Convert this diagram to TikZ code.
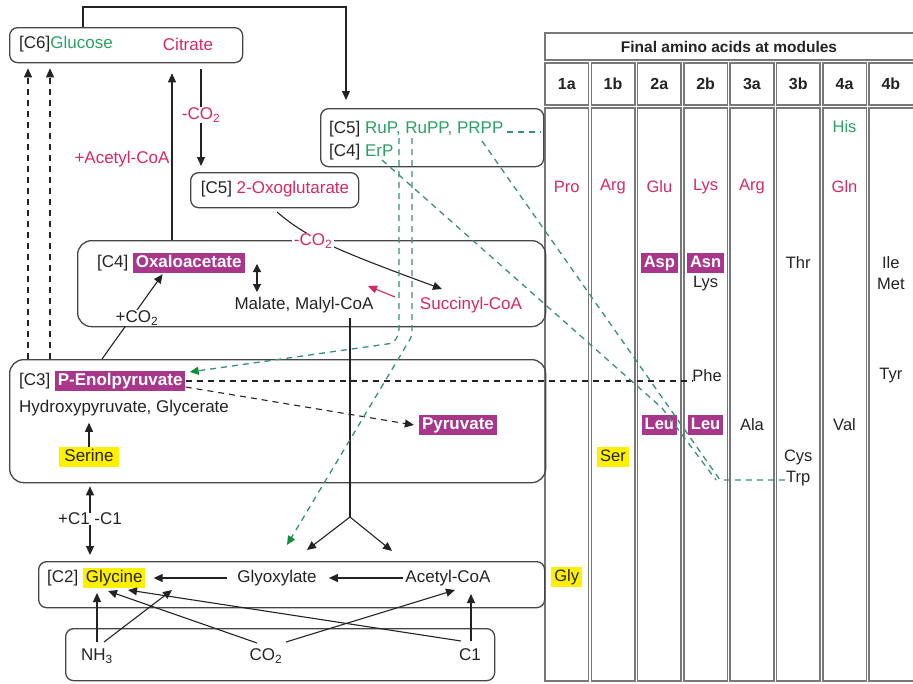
\documentclass[tikz,border=0pt]{standalone}
\usepackage{fontspec}
\setmainfont{Liberation Sans}
\usetikzlibrary{arrows.meta}
\definecolor{txtgreen}{RGB}{45,160,100}
\definecolor{crim}{RGB}{214,40,100}
\definecolor{magbg}{RGB}{168,55,140}
\definecolor{hlyel}{RGB}{255,240,0}
\definecolor{dgreen}{RGB}{55,145,115}
\definecolor{tipgreen}{RGB}{20,140,60}
\definecolor{frame}{RGB}{70,70,70}
\definecolor{tframe}{RGB}{120,120,120}
\definecolor{ink}{RGB}{35,35,35}
\begin{document}
\begin{tikzpicture}[x=1pt,y=-1pt,
  every node/.style={inner sep=0pt, text=ink},
  font=\fontsize{17}{20}\selectfont,
  panel/.style={draw=frame, line width=1.3pt, rounded corners=8pt, anchor=north west, inner sep=0pt},
  bigpanel/.style={panel, rounded corners=14pt},
  chip/.style={inner xsep=3pt, inner ysep=2pt, text height=12.5pt, text depth=3.5pt},
  magtag/.style={chip, fill=magbg, text=white, font=\fontsize{17}{20}\selectfont\bfseries},
  yeltag/.style={chip, fill=hlyel, text=ink},
  arrowend/.style={-{Triangle[length=9pt,width=8pt]}},
  link/.style={draw=ink, line width=1.1pt},
  flow/.style={link, arrowend},
  dashy/.style={dash pattern=on 6pt off 5pt},
  gline/.style={draw=dgreen, line width=1.3pt, dashy},
  gflow/.style={gline, -{Triangle[length=9pt,width=8pt,color=tipgreen]}},
  knockout/.style={fill=white, inner xsep=2pt, inner ysep=1pt},
  cell/.style={draw=tframe, line width=1.6pt},
  colhead/.style={font=\fontsize{16}{19}\selectfont\bfseries},
  aa/.style={font=\fontsize{16.5}{19}\selectfont},
  aatag/.style={font=\fontsize{16.5}{19}\selectfont\bfseries},
]
\useasboundingbox (0,0) rectangle (913,683);

% ---------- table of final amino acids ----------
\draw[cell] (545,33) rectangle (918,60);
\node[font=\fontsize{15.5}{18}\selectfont\bfseries] (tabtitle) at (729,46.5) {Final amino acids at modules};
\foreach \lab [count=\i from 0] in {1a,1b,2a,2b,3a,3b,4a,4b}{
  \pgfmathsetmacro{\xl}{545+46.3*\i}
  \pgfmathsetmacro{\colw}{\i==7 ? 50 : 43.5}
  \draw[cell] (\xl,63) rectangle ++(\colw,42);
  \draw[cell] (\xl,108) rectangle ++(\colw,573);
  \node[colhead] (col\lab) at (\xl+21.75,84) {\lab};
}
% column centres: 566.75 613.05 659.35 705.65 751.95 798.25 844.55 890.85
\node[aa, text=txtgreen] (his) at (844.55,127) {His};
\node[aa, text=crim] (pro) at (566.75,187) {Pro};
\node[aa, text=crim] (argA) at (613.05,187) {Arg};
\node[aa, text=crim] (glu) at (659.35,187) {Glu};
\node[aa, text=crim] (lysA) at (705.65,187) {Lys};
\node[aa, text=crim] (argB) at (751.95,187) {Arg};
\node[aa, text=crim] (gln) at (844.55,187) {Gln};
\node[magtag, aatag] (asp) at (659.35,263) {Asp};
\node[magtag, aatag] (asn) at (705.65,263) {Asn};
\node[aa] (lysB) at (705.65,284) {Lys};
\node[aa] (thr) at (798.25,263) {Thr};
\node[aa] (ile) at (890.85,263) {Ile};
\node[aa] (met) at (890.85,284) {Met};
\node[aa] (phe) at (707,376) {Phe};
\node[aa] (tyr) at (890.85,376) {Tyr};
\node[magtag, aatag] (leuA) at (659.35,425) {Leu};
\node[magtag, aatag] (leuB) at (705.65,425) {Leu};
\node[aa] (ala) at (751.95,425) {Ala};
\node[aa] (val) at (844.55,425) {Val};
\node[yeltag, aa] (ser) at (613.05,457) {Ser};
\node[aa] (cys) at (798.25,457) {Cys};
\node[aa] (trp) at (798.25,479) {Trp};
\node[yeltag, aa] (glyaa) at (566.75,577) {Gly};

% ---------- module panels ----------
\node[panel, minimum width=233, minimum height=35] (c6box) at (9,27) {};
\node[panel, minimum width=223, minimum height=58] (c5box) at (320,108) {};
\node[panel, minimum width=168, minimum height=35] (oxobox) at (190,172) {};
\node[bigpanel, minimum width=468, minimum height=86] (c4box) at (77,240) {};
\node[bigpanel, minimum width=536, minimum height=123] (c3box) at (9,359) {};
\node[panel, minimum width=506, minimum height=46] (c2box) at (38,561) {};
\node[panel, minimum width=429, minimum height=52] (srcbox) at (65,628) {};

% ---------- panel contents ----------
\node[anchor=west] (c6tag) at (19,44) {[C6]\textcolor{txtgreen}{Glucose}};
\node[text=crim] (citrate) at (188,44) {Citrate};
\node[anchor=west] (c5tag) at (329,129) {[C5] \textcolor{txtgreen}{RuP, RuPP, PRPP}};
\node[anchor=west] (c4erp) at (329,152) {[C4] \textcolor{txtgreen}{ErP}};
\node (oxoglu) at (275,189) {[C5] \textcolor{crim}{2-Oxoglutarate}};

\node[anchor=west] (c4tag) at (97,263) {[C4]};
\node[magtag, anchor=west] (oxa) at ([xshift=4pt]c4tag.east) {Oxaloacetate};
\node (malate) at (304,305) {Malate, Malyl-CoA};
\node[text=crim] (succ) at (471,305) {Succinyl-CoA};

\node[anchor=west] (c3tag) at (19,381) {[C3]};
\node[magtag, anchor=west] (pep) at ([xshift=4pt]c3tag.east) {P-Enolpyruvate};
\node[anchor=west] (hydroxy) at (19,408) {Hydroxypyruvate, Glycerate};
\node[magtag] (pyr) at (458,425) {Pyruvate};
\node[yeltag, inner xsep=5pt] (serine) at (89,457) {Serine};

\node[anchor=west] (c2tag) at (47,578) {[C2]};
\node[yeltag, anchor=west] (gly) at ([xshift=4pt]c2tag.east) {Glycine};
\node (glyox) at (277,578) {Glyoxylate};
\node (acoa) at (448,578) {Acetyl-CoA};

\node (nh3) at (97,656) {NH\textsubscript{3}};
\node (co2) at (266,656) {CO\textsubscript{2}};
\node (cone) at (470,655) {C1};

\node (c1swap) at (90,519) {+C1 -C1};

% ---------- connectors ----------
% glucose to the pentose phosphates
\draw[flow] ([xshift=74pt]c6box.north west) -- ++(0,-20) -| ([xshift=26pt,yshift=8pt]c5box.north west);
% gluconeogenesis from C3
\draw[link, dashy, arrowend] ([xshift=19pt]c3box.north west) -- ([xshift=19pt,yshift=-5pt]c6box.south west);
\draw[link, dashy, arrowend] ([xshift=41pt]c3box.north west) -- ([xshift=41pt,yshift=-5pt]c6box.south west);
% oxaloacetate + acetyl-CoA to citrate
\draw[flow] ([xshift=95pt]c4box.north west) -- ([xshift=163pt,yshift=-10pt]c6box.south west);
\node[text=crim] (plusacoa) at (122,159) {+Acetyl-CoA};
% citrate to 2-oxoglutarate
\draw[flow] ([xshift=192pt,yshift=-6pt]c6box.south west) -- ([xshift=11pt,yshift=6pt]oxobox.north west);
\node[knockout, text=crim] (minco2a) at (201,115) {-CO\textsubscript{2}};
% 2-oxoglutarate to succinyl-CoA
\coordinate (oxoout) at (277,212);
\coordinate (succin) at (442,289);
\draw[flow] (oxoout) .. controls (305,236) and (330,248) .. (succin);
\node[knockout, text=crim] (minco2b) at (313,241) {-CO\textsubscript{2}};
% succinyl-CoA back to malate
\coordinate (succout) at (395,297);
\coordinate (malin) at (368,286);
\draw[draw=crim, line width=1.1pt, -{Triangle[length=9pt,width=8pt]}] (succout) -- (malin);
% oxaloacetate <-> malate
\draw[link, {Triangle[length=8pt,width=8pt]}-{Triangle[length=8pt,width=8pt]}] (257,264) -- (257,292);
% PEP carboxylation
\draw[flow] ([xshift=93pt]c3box.north west) -- ([xshift=30pt,yshift=-1pt]oxa.south west);
\node[knockout] (plusco2) at (137,318) {+CO\textsubscript{2}};

% malyl-CoA cleavage to glyoxylate and acetyl-CoA
\coordinate (malbot) at (350,318);
\coordinate (split) at (350,517);
\draw[link] (malbot) -- (split);
\draw[flow] (split) -- (307,550);
\draw[flow] (split) -- (392,551);

% C3 internal
\draw[link, dashy] (pep.east) -- (pep.east -| phe.west);
\draw[link, dashy, arrowend] ([yshift=-6pt]pep.east) -- ([xshift=-5pt]pyr.west);
\draw[flow] (serine.north) -- ++(0,-24);

% serine / glycine exchange
\draw[flow] (c1swap.north) -- ([yshift=-3pt]c3box.south -| c1swap);
\draw[flow] (c1swap.south) -- ([yshift=6pt]c2box.north -| c1swap);

% C2 internal
\draw[flow, shorten <=10pt, shorten >=8pt] (glyox.west) -- (gly.east);
\draw[flow, shorten <=2pt, shorten >=12pt] (acoa.west) -- (glyox.east);

% inorganic sources
\draw[flow] (97,642) -- (97,593);
\draw[flow] (104,642) -- (172,590);
\draw[flow] (257,643) -- (108,591);
\draw[flow] (286,642) -- (455,590);
\draw[flow] (461,641) -- (128,590);
\draw[flow] (471,641) -- (471,594);

% pentose / tetrose phosphate routes
\coordinate (rupA) at (399,138);
\coordinate (rupB) at (412,138);
\coordinate (prppS) at (482,141);
\coordinate (erpS) at (382,160);
\coordinate (cyjoin) at (720,480);
\draw[gline] ([xshift=3pt,yshift=-3pt]c5tag.east) -- ++(34,0);
\draw[gline] (prppS) -- (cyjoin) -- (cyjoin -| trp.west);
\draw[gline] (erpS) -- (662,408) -- (716,480);
\draw[gflow, rounded corners=4pt] (rupA) -- (399,333) -- (394,343) -- ([xshift=4pt,yshift=9pt]pep.east);
\draw[gflow, rounded corners=4pt] (rupB) -- (412,336) -- (287,545);
\end{tikzpicture}
\end{document}
